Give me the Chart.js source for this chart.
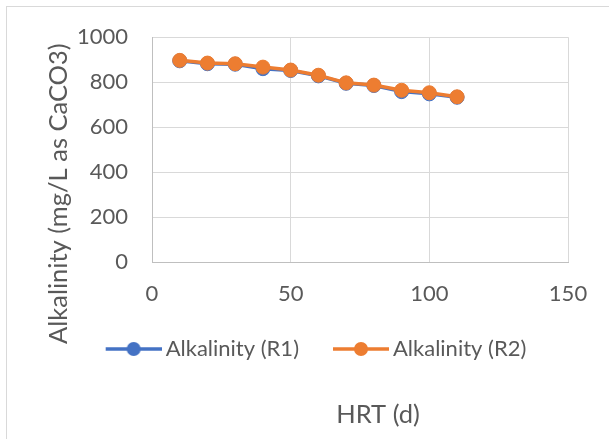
<!DOCTYPE html>
<html>
<head>
<meta charset="utf-8">
<script src="https://cdn.jsdelivr.net/npm/chart.js@4"></script>
<style>
  html, body { margin: 0; padding: 0; background: #fff; overflow: hidden; }
  #wrap { position: relative; width: 609px; height: 439px; }
  #frame { position: absolute; left: 6px; top: 6px; width: 700px; height: 600px;
           border: 1px solid #d9d9d9; pointer-events: none; }
</style>
</head>
<body>
<div id="wrap">
  <canvas id="alk" width="609" height="439"></canvas>
  <div id="frame"></div>
</div>
<script>
// HRT (days) and alkalinity readings for the two reactors
var hrt = [10, 20, 30, 40, 50, 60, 70, 80, 90, 100, 110];
var alkR1 = [895, 882, 880, 860, 852, 828, 795, 785, 758, 748, 733];
var alkR2 = [897, 885, 882, 867, 854, 831, 797, 787, 764, 753, 735];
var seriesNames = ["Alkalinity (R1)", "Alkalinity (R2)"];
var seriesColors = ["#4472C4", "#ED7D31"];
var xTicks = [0, 50, 100, 150];
var yTicks = [0, 200, 400, 600, 800, 1000];

var FONT = "Lato";
var TEXT = "#595959";

function points(ys){
    return hrt.map(function(x, i){ return {x: x, y: ys[i]}; });
}

function plain(v){
    return String(v);
}

// legend symbol: short line with a dot, pushed to the right of the
// image so it ends just before the label text
function legendIcon(color){
    var c = document.createElement("canvas");
    c.width = 65;
    c.height = 16;
    var g = c.getContext("2d");
    g.strokeStyle = color;
    g.lineWidth = 3.5;
    g.beginPath();
    g.moveTo(9, 8);
    g.lineTo(65, 8);
    g.stroke();
    g.fillStyle = color;
    g.beginPath();
    g.arc(37, 8, 7, 0, Math.PI * 2);
    g.fill();
    return c;
}

// axis titles sit where the spreadsheet layout put them
var axisTitles = {
    id: "axisTitles",
    afterDraw: function(chart){
        var ctx = chart.ctx;
        var area = chart.chartArea;
        ctx.save();
        ctx.fillStyle = TEXT;
        ctx.font = "25.5px " + FONT;
        ctx.textAlign = "center";
        ctx.textBaseline = "alphabetic";
        ctx.fillText("HRT (d)", (area.left + area.right) / 2 + 18, 423);
        ctx.translate(67, (area.top + area.bottom) / 2 + 44);
        ctx.rotate(-Math.PI / 2);
        ctx.fillText("Alkalinity (mg/L as CaCO3)", 0, 0);
        ctx.restore();
    }
};

var ctx = document.getElementById("alk");

var chart = new Chart(ctx, {
    type: "line",
    data: {
        datasets: [0, 1].map(function(k){
            return {
                label: seriesNames[k],
                data: points(k === 0 ? alkR1 : alkR2),
                borderColor: seriesColors[k],
                backgroundColor: seriesColors[k],
                borderWidth: 3.5,
                pointRadius: 7,
                pointBorderWidth: 1,
                pointHoverRadius: 7,
                tension: 0,
                order: 1 - k
            };
        })
    },
    options: {
        responsive: false,
        animation: false,
        layout: {
            padding: {left: 62, right: 41, top: 37, bottom: 69}
        },
        scales: {
            x: {
                type: "linear",
                min: 0,
                max: 150,
                afterBuildTicks: function(scale){
                    scale.ticks = xTicks.map(function(v){ return {value: v}; });
                },
                afterFit: function(scale){
                    scale.height -= 19.5;
                },
                grid: {color: "#d9d9d9", drawTicks: false},
                border: {color: "#bfbfbf"},
                ticks: {color: TEXT, font: {family: FONT, size: 22}, padding: 18.5,
                        maxRotation: 0, autoSkip: false, callback: plain}
            },
            y: {
                min: 0,
                max: 1000,
                afterBuildTicks: function(scale){
                    scale.ticks = yTicks.map(function(v){ return {value: v}; });
                },
                afterFit: function(scale){
                    scale.width = 90;
                },
                grid: {color: "#d9d9d9", drawTicks: false},
                border: {color: "#bfbfbf"},
                ticks: {color: TEXT, font: {family: FONT, size: 22}, padding: 24,
                        autoSkip: false, callback: plain}
            }
        },
        plugins: {
            tooltip: {enabled: false},
            legend: {
                position: "bottom",
                labels: {
                    color: TEXT,
                    font: {family: FONT, size: 22},
                    usePointStyle: true,
                    pointStyleWidth: 51,
                    padding: 32,
                    generateLabels: function(chart){
                        return chart.data.datasets.map(function(ds, i){
                            return {
                                text: ds.label,
                                pointStyle: legendIcon(seriesColors[i]),
                                fillStyle: seriesColors[i],
                                strokeStyle: seriesColors[i],
                                lineWidth: 0,
                                fontColor: TEXT,
                                datasetIndex: i
                            };
                        });
                    }
                }
            }
        }
    },
    plugins: [axisTitles]
});
</script>
</body>
</html>
